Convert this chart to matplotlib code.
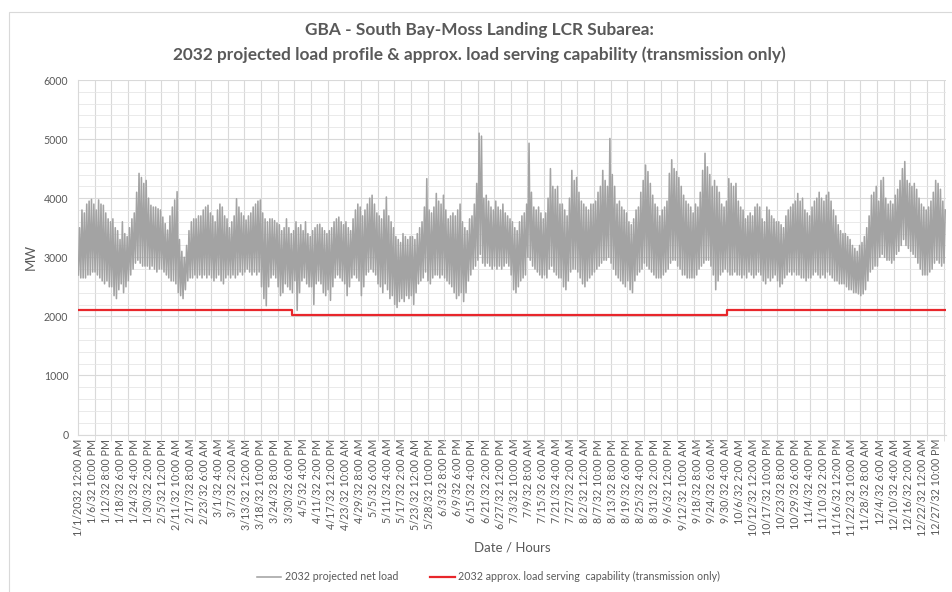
import datetime as dt
import numpy as np
import matplotlib
matplotlib.use("Agg")
import matplotlib.pyplot as plt
from matplotlib.patches import Rectangle

plt.rcParams['font.family'] = ['Lato', 'DejaVu Sans']

# daily peak / daily low of the hourly net load (MW), one row per week
daily_peak = [
    3500, 3800, 3750, 3900, 3950, 3980, 3900,
    3800, 3970, 3900, 3880, 3750, 3650, 3600,
    3650, 3500, 3450, 3300, 3600, 3400, 3350,
    3500, 3650, 3750, 4100, 4420, 4350, 4250,
    4300, 4000, 3880, 3850, 3850, 3820, 3800,
    3680, 3570, 3460, 3700, 3850, 3970, 4110,
    3300, 3100, 3000, 3200, 3450, 3600, 3650,
    3650, 3700, 3700, 3800, 3850, 3880, 3750,
    3700, 3600, 3800, 3900, 3850, 3700, 3650,
    3500, 3600, 3700, 3990, 3850, 3750, 3700,
    3630, 3700, 3750, 3850, 3900, 3950, 3970,
    3750, 3650, 3600, 3650, 3650, 3620, 3580,
    3550, 3450, 3500, 3650, 3500, 3400, 3450,
    3600, 3500, 3550, 3450, 3600, 3400, 3350,
    3450, 3500, 3550, 3560, 3500, 3450, 3400,
    3450, 3500, 3600, 3650, 3680, 3600, 3550,
    3600, 3500, 3450, 3650, 3800, 3900, 3850,
    3700, 3800, 3900, 4000, 4050, 3900, 3750,
    3700, 3650, 3800, 4020, 3700, 3600, 3500,
    3350, 3300, 3250, 3400, 3350, 3300, 3350,
    3350, 3300, 3400, 3500, 3600, 3850, 4330,
    3800, 3750, 3850, 4080, 3950, 3900, 4050,
    3800, 3650, 3700, 3750, 3700, 3800, 3900,
    3600, 3500, 3450, 3650, 3700, 3900, 4250,
    5100, 5050, 4000, 4050, 3950, 3850, 3800,
    3950, 3850, 3800, 3900, 3750, 3700, 3650,
    3600, 3500, 3450, 3600, 3700, 3750, 3900,
    4930, 4100, 3850, 3800, 3850, 3750, 3650,
    3750, 4000, 4500, 4200, 4150, 4200, 3900,
    3900, 3800, 3700, 4000, 4470, 4300, 4350,
    4100, 3950, 3900, 3850, 3800, 3900, 3900,
    3950, 4100, 4200, 4470, 4300, 4200, 5010,
    4400, 4200, 3900, 3950, 3850, 3800, 3750,
    3600, 3550, 3650, 3800, 3850, 4100, 4300,
    4560, 4450, 4250, 4050, 3900, 3850, 3700,
    3800, 3850, 3950, 4420, 4650, 4500, 4450,
    4350, 4200, 4050, 3950, 3900, 3850, 3750,
    3900, 3850, 4100, 4470, 4760, 4530, 4400,
    4200, 4300, 4200, 4100, 3900, 3850, 3950,
    4330, 4250, 4200, 4250, 3950, 3850, 3800,
    3650, 3700, 3750, 3700, 3850, 3900, 3850,
    3650, 3600, 3850, 3800, 3700, 3650, 3600,
    3600, 3550, 3500, 3700, 3800, 3850, 3900,
    3950, 4080, 3950, 4000, 3800, 3750, 3700,
    3850, 3950, 4000, 4100, 4000, 3950, 4050,
    4100, 3950, 3800, 3700, 3550, 3450, 3400,
    3400, 3350, 3300, 3200, 3150, 3100, 3200,
    3250, 3350, 3500, 3700, 4050, 4100, 4200,
    3950, 4300, 4350, 4000, 3900, 3950, 3900,
    4050, 4150, 4300, 4500, 4620, 4300, 4250,
    4200, 4250, 4150, 4000, 3900, 3850, 3800,
    3850, 3950, 4100, 4300, 4250, 4150, 3950,
    3800,
]

daily_low = [
    2700, 2650, 2650, 2650, 2700, 2700, 2750,
    2750, 2700, 2650, 2600, 2550, 2600, 2500,
    2500, 2350, 2300, 2450, 2550, 2400, 2500,
    2600, 2700, 2800, 2900, 2950, 2900, 2850,
    2850, 2850, 2800, 2850, 2800, 2750, 2800,
    2800, 2750, 2700, 2650, 2600, 2600, 2550,
    2400, 2350, 2300, 2450, 2600, 2650, 2650,
    2700, 2650, 2700, 2650, 2700, 2650, 2700,
    2650, 2600, 2650, 2700, 2600, 2550, 2650,
    2700, 2650, 2700, 2650, 2700, 2750, 2700,
    2750, 2800, 2750, 2700, 2750, 2700, 2750,
    2500, 2300, 2180, 2500, 2650, 2700, 2650,
    2500, 2350, 2400, 2550, 2500, 2450, 2400,
    2600, 2100, 2400, 2600, 2650, 2550, 2500,
    2500, 2200, 2550, 2600, 2550, 2400, 2350,
    2450, 2270, 2500, 2650, 2700, 2650, 2600,
    2550, 2350, 2500, 2650, 2700, 2650, 2600,
    2350, 2500, 2700, 2750, 2800, 2750, 2700,
    2550, 2500, 2400, 2550, 2450, 2300, 2350,
    2200, 2150, 2250, 2300, 2250, 2350, 2300,
    2350, 2200, 2400, 2550, 2600, 2650, 2750,
    2600, 2550, 2650, 2700, 2700, 2650, 2700,
    2650, 2600, 2550, 2500, 2400, 2300, 2350,
    2400, 2250, 2400, 2600, 2700, 2800, 2850,
    2950, 3050, 2900, 2850, 2900, 2850, 2800,
    2850, 2800, 2850, 2800, 2850, 2900, 2850,
    2700, 2450, 2400, 2500, 2600, 2650, 2700,
    3000, 2950, 2850, 2800, 2750, 2700, 2650,
    2700, 2650, 2800, 2850, 2750, 2700, 2650,
    2650, 2500, 2450, 2600, 2750, 2800, 2800,
    2750, 2650, 2550, 2500, 2600, 2650, 2700,
    2750, 2800, 2850, 2900, 2950, 2950, 3000,
    2900, 2800, 2700, 2650, 2600, 2550, 2500,
    2600, 2450, 2400, 2600, 2700, 2750, 2800,
    2900, 2850, 2800, 2750, 2700, 2650, 2650,
    2650, 2700, 2750, 2800, 2900, 2950, 2950,
    2850, 2800, 2700, 2700, 2650, 2650, 2650,
    2650, 2700, 2800, 2850, 2900, 2950, 2950,
    2850, 2700, 2450, 2600, 2700, 2750, 2800,
    2750, 2700, 2700, 2750, 2700, 2700, 2650,
    2700, 2650, 2750, 2700, 2650, 2700, 2750,
    2700, 2600, 2550, 2650, 2600, 2650, 2700,
    2600, 2500, 2550, 2650, 2700, 2750, 2700,
    2750, 2700, 2700, 2650, 2650, 2600, 2650,
    2650, 2700, 2750, 2700, 2650, 2700, 2650,
    2750, 2700, 2650, 2600, 2600, 2550, 2550,
    2550, 2500, 2450, 2450, 2400, 2400, 2380,
    2350, 2380, 2450, 2600, 2750, 2800, 2850,
    2850, 3000, 3050, 3000, 2950, 2950, 2900,
    2950, 3050, 3100, 3200, 3300, 3200, 3150,
    3100, 3050, 3000, 2900, 2800, 2700, 2700,
    2700, 2750, 2800, 2900, 2950, 2900, 2850,
    2900,
]

# load serving capability (transmission only): hour where each level starts
cap_start_hour = [0, 2160, 6552]
cap_mw = [2110, 2020, 2110]
n_hours = 8760

# x labels every 142 hours, weekly tick marks / gridlines
label_step = 142
week = 168

# %%
# data has 8760 hours (no Feb 29), so use a non-leap calendar for the labels
base = dt.datetime(2031, 1, 1)
label_pos = np.arange(0, n_hours, label_step)
labels = []
for h in label_pos:
    t = base + dt.timedelta(hours=int(h))
    hr = t.hour % 12 or 12
    ampm = 'AM' if t.hour < 12 else 'PM'
    yr = '2032' if h == 0 else '32'
    labels.append(f'{t.month}/{t.day}/{yr} {hr}:00 {ampm}')

days = np.arange(len(daily_peak))
x_load = np.column_stack([days * 24 + 4, days * 24 + 16]).ravel()
y_load = np.column_stack([daily_low, daily_peak]).ravel()

cap_x = cap_start_hour + [n_hours]
cap_y = cap_mw + [cap_mw[-1]]

# %%
fig = plt.figure(figsize=(9.52, 5.92), dpi=100)
ax = fig.add_axes([78/952, 1 - 434.5/592, 868/952, 354.5/592])

ax.plot(x_load, y_load, color='#a3a3a3', lw=1.15, label='2032 projected net load', zorder=3)
ax.step(cap_x, cap_y, where='post', color='#e8262b', lw=1.6,
        label='2032 approx. load serving  capability (transmission only)', zorder=4)

ax.set_xlim(0, n_hours)
ax.set_ylim(0, 6000)
ax.set_yticks(np.arange(0, 6001, 1000))
ax.set_yticks(np.arange(0, 6001, 200), minor=True)

# labels on major ticks, weekly marks + gridlines on minor ticks
ax.set_xticks(label_pos)
ax.set_xticklabels(labels, rotation=90)
ax.set_xticks(np.arange(0, n_hours + 1, week), minor=True)

ax.tick_params(axis='x', which='minor', length=4, color='#d9d9d9')
ax.tick_params(axis='x', which='major', length=0, pad=3, labelsize=7.7, labelcolor='#595959')
ax.tick_params(axis='y', which='both', length=0, pad=7, labelsize=7.6, labelcolor='#595959')

ax.grid(True, which='minor', axis='x', color='#d9d9d9', lw=0.8)
ax.grid(True, which='major', axis='y', color='#d9d9d9', lw=0.8)
ax.grid(True, which='minor', axis='y', color='#e6e6e6', lw=0.6)
ax.set_axisbelow(True)
for s in ['top', 'right']:
    ax.spines[s].set_visible(False)
ax.spines['bottom'].set_color('#d9d9d9')
ax.spines['left'].set_color('#d9d9d9')
ax.spines['left'].set_linewidth(0.8)

ax.set_ylabel('MW', fontsize=9.5, color='#595959', labelpad=5)
ax.set_xlabel('Date / Hours', fontsize=9.5, color='#595959', labelpad=4)

fig.suptitle('GBA - South Bay-Moss Landing LCR Subarea:\n'
             '2032 projected load profile & approx. load serving capability (transmission only)',
             x=0.504, y=0.962, fontsize=12.4, fontweight='bold', color='#595959', linespacing=1.55)

fig.legend(loc='lower center', bbox_to_anchor=(0.513, 0.0), ncol=2, frameon=False,
           fontsize=7.7, labelcolor='#595959', handlelength=2.3, handletextpad=0.3,
           columnspacing=3.0)

# chart border
fig.patches.append(Rectangle((9/952, -0.1), 2, 1 - 12/592 + 0.1, transform=fig.transFigure,
                             fill=False, ec='#d9d9d9', lw=0.8))

plt.savefig('out.png', dpi=100)
